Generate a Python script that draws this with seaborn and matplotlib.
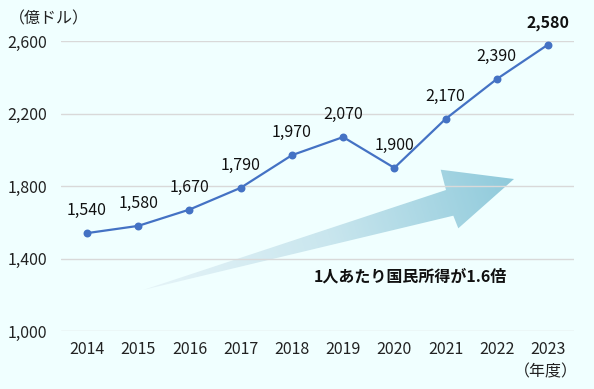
import numpy as np
import pandas as pd
import matplotlib
matplotlib.use("Agg")
import matplotlib.pyplot as plt
import seaborn as sns
from matplotlib.patches import Polygon
from matplotlib.colors import LinearSegmentedColormap

years = ["2014", "2015", "2016", "2017", "2018", "2019", "2020", "2021", "2022", "2023"]
income = [1540, 1580, 1670, 1790, 1970, 2070, 1900, 2170, 2390, 2580]
y_ticks = [1000, 1400, 1800, 2200, 2600]
unit_label = "（億ドル）"
x_unit_label = "（年度）"
note = "1人あたり国民所得が1.6倍"

sns.set_theme(style="white")
plt.rcParams['font.family'] = ['Noto Sans CJK JP', 'DejaVu Sans']

BG = "#F0FFFF"
LINE = "#4472C4"
FS = 11.5
W, H = 594, 389
fig = plt.figure(figsize=(W / 100, H / 100), dpi=100, facecolor=BG)

# background overlay in pixel coords for the decorative arrow
axb = fig.add_axes([0, 0, 1, 1], zorder=0)
axb.set_xlim(0, W)
axb.set_ylim(H, 0)
axb.axis("off")
axb.set_facecolor(BG)

tail = np.array([143.0, 290.0])
tip = np.array([514.0, 179.0])
poly_pts = [tuple(tail), (446, 190), (440.7, 169.7), tuple(tip), (458.3, 228.3), (453.3, 215.7)]
xx, yy = np.meshgrid(np.arange(W) + 0.5, np.arange(H) + 0.5)
d = tip - tail
t = ((xx - tail[0]) * d[0] + (yy - tail[1]) * d[1]) / (d @ d)
t = np.clip(t, 0, 1)
cmap = LinearSegmentedColormap.from_list("arr", ["#E6F4F8", "#C9E6EE", "#8FCADB"])
im = axb.imshow(t, cmap=cmap, extent=[0, W, H, 0], vmin=0, vmax=1, interpolation="bilinear")
poly = Polygon(poly_pts, closed=True, transform=axb.transData, facecolor="none", edgecolor="none")
axb.add_patch(poly)
im.set_clip_path(poly)

ax = fig.add_axes([61.4 / W, 1 - 331 / H, (573.6 - 61.4) / W, (331 - 41) / H], zorder=1)
ax.set_facecolor("none")

df = pd.DataFrame({"year": years, "income": income})
sns.pointplot(data=df, x="year", y="income", color=LINE, markers="o",
              markersize=4.5, linewidth=1.6, ax=ax)

ax.set_xlim(-0.5, len(years) - 0.5)
ax.set_ylim(1000, 2600)
ax.set_yticks(y_ticks)
ax.set_yticklabels([f"{v:,}" for v in y_ticks])
ax.grid(axis="y", color="#D9D9D9", linewidth=1)
ax.set_axisbelow(True)
for s in ax.spines.values():
    s.set_visible(False)
ax.tick_params(axis="both", length=0, labelsize=FS, colors="#222222")
ax.tick_params(axis="x", pad=7)
ax.tick_params(axis="y", pad=10)
ax.set_xlabel("")
ax.set_ylabel("")

for i, v in enumerate(income):
    bold = i == len(income) - 1
    ax.annotate(f"{v:,}", (i, v), xytext=(0, 10), textcoords="offset points",
                ha="center", va="bottom", fontsize=FS,
                fontweight="bold" if bold else "normal", color="#111111")

fig.text(49 / W, 1 - 19 / H, unit_label, ha="center", va="center", fontsize=FS, color="#222222")
fig.text(546 / W, 1 - 372 / H, x_unit_label, ha="center", va="center", fontsize=FS, color="#222222")
fig.text(410 / W, 1 - 277 / H, note, ha="center", va="center", fontsize=11.5,
         fontweight="bold", color="#111111")

fig.savefig("out.png", dpi=100, facecolor=BG)
